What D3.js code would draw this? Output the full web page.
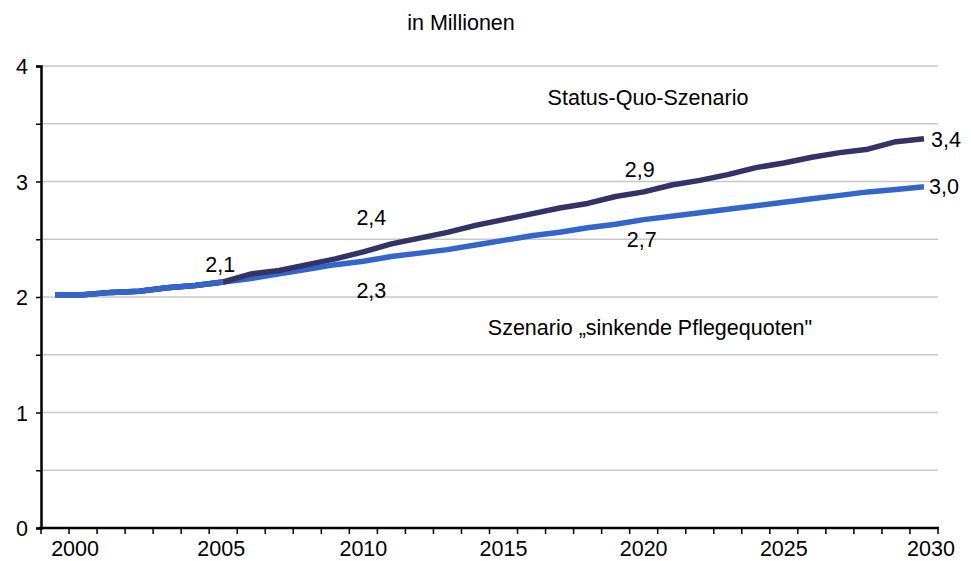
<!DOCTYPE html>
<html><head><meta charset="utf-8">
<script src="https://cdn.jsdelivr.net/npm/d3@7"></script>
<style>body{margin:0;background:#fff}svg{display:block}text{font-family:"Liberation Sans",Arial,sans-serif;fill:#000}</style>
</head><body><svg id="c" width="971" height="561"></svg>
<script>
const years = d3.range(1999, 2031);
const statusQuo = [2.02,2.02,2.04,2.05,2.08,2.10,2.13,2.20,2.23,2.28,2.33,2.39,2.46,2.51,2.56,2.62,2.67,2.72,2.77,2.81,2.87,2.91,2.97,3.01,3.06,3.12,3.16,3.21,3.25,3.28,3.345,3.37];
const sinkend = [2.02,2.02,2.04,2.05,2.08,2.10,2.13,2.16,2.20,2.24,2.28,2.31,2.35,2.38,2.41,2.45,2.49,2.53,2.56,2.60,2.63,2.67,2.70,2.73,2.76,2.79,2.82,2.85,2.88,2.91,2.93,2.955];
const yGrid = [0.5,1,1.5,2,2.5,3,3.5,4];
const xLabels = [2000,2005,2010,2015,2020,2025,2030];
const valueLabels = [
  {year:2005, text:"2,1", dx:-3, dy:-10, series:"sq"},
  {year:2010, text:"2,4", dx:8, dy:-27, series:"sq"},
  {year:2020, text:"2,9", dx:-4, dy:-15, series:"sq"},
  {year:2030, text:"3,4", dx:22, dy:8, series:"sq"},
  {year:2030, text:"3,0", dx:20, dy:7, series:"sk"},
  {year:2010, text:"2,3", dx:8, dy:37, series:"sk"},
  {year:2020, text:"2,7", dx:-2, dy:27, series:"sk"}
];
const FS = 21.5;

const svg = d3.select("#c");
const x = d3.scaleBand().domain(years).range([41, 938]);
const y = d3.scaleLinear().domain([0,4]).range([528, 66]);
const cx = d => x(d) + x.bandwidth()/2;

// grid
svg.append("g").selectAll("line").data(yGrid).join("line")
  .attr("x1", 41).attr("x2", 938).attr("y1", d=>y(d)).attr("y2", d=>y(d))
  .attr("stroke", "#c8c8c8").attr("stroke-width", 1.5);

// y axis
const yAxis = d3.axisLeft(y).tickValues(d3.range(0,4.01,0.5)).tickSize(5)
  .tickFormat(d => Number.isInteger(d) ? d : "");
const gy = svg.append("g").attr("transform","translate(41,0)").call(yAxis);
gy.select(".domain").attr("stroke","#000").attr("stroke-width",2.5);
gy.selectAll(".tick line").attr("stroke","#000").attr("stroke-width",1.5);
gy.selectAll(".tick text").attr("font-size",FS).attr("x",-13).attr("dy","0.36em").style("font-family","Liberation Sans, Arial, sans-serif");

// x axis
const xTickPos = years.map(d => x(d)).concat([938]);
const gx = svg.append("g");
gx.append("line").attr("x1",39).attr("x2",939).attr("y1",528).attr("y2",528).attr("stroke","#000").attr("stroke-width",2.5);
gx.selectAll("line.t").data(xTickPos).join("line").attr("class","t")
  .attr("x1",d=>d).attr("x2",d=>d).attr("y1",528).attr("y2",534).attr("stroke","#000").attr("stroke-width",1.5);
const xOff = {2000:-8, 2005:-2, 2030:7};
gx.selectAll("text").data(xLabels).join("text")
  .attr("x", d => cx(d) + (xOff[d] || 0))
  .attr("y", 556).attr("text-anchor","middle").attr("font-size",FS).text(d=>d);

// lines
const line = d3.line().x((d,i)=>cx(years[i])).y(d=>y(d));
svg.append("path").datum(sinkend).attr("d",line).attr("fill","none")
  .attr("stroke","#3366cc").attr("stroke-width",5.5).attr("stroke-linejoin","round");
svg.append("path").datum(statusQuo).attr("d",line).attr("fill","none")
  .attr("stroke","#333366").attr("stroke-width",5.5).attr("stroke-linejoin","round");
svg.append("path").datum(sinkend.slice(0,7)).attr("d",line).attr("fill","none")
  .attr("stroke","#3366cc").attr("stroke-width",5.5).attr("stroke-linejoin","round");

// value labels
svg.append("g").selectAll("text").data(valueLabels).join("text")
  .attr("x", d => cx(d.year) + d.dx)
  .attr("y", d => y((d.series==="sk" ? sinkend : statusQuo)[years.indexOf(d.year)]) + d.dy)
  .attr("text-anchor","middle").attr("font-size",FS).text(d=>d.text);

// titles
svg.append("text").attr("x",461).attr("y",30).attr("text-anchor","middle").attr("font-size",FS).text("in Millionen");
svg.append("text").attr("x",648).attr("y",105).attr("text-anchor","middle").attr("font-size",FS).text("Status-Quo-Szenario");
svg.append("text").attr("x",650).attr("y",335).attr("text-anchor","middle").attr("font-size",FS).text("Szenario \u201Esinkende Pflegequoten\"");
</script></body></html>
